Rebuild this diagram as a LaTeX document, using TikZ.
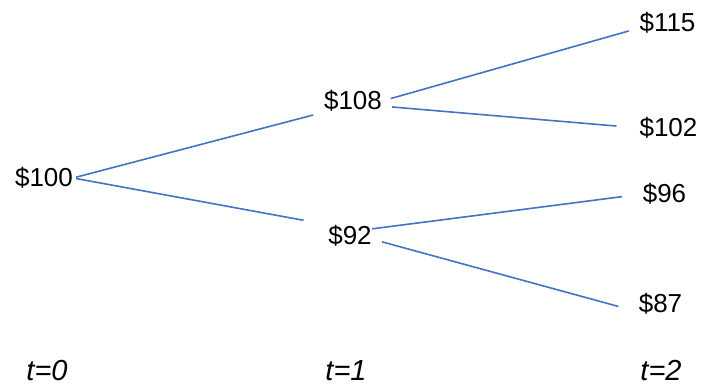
\documentclass[tikz,border=0pt]{standalone}
\usepackage{fontspec}
\setmainfont{Liberation Sans}
\definecolor{branchblue}{RGB}{68,114,196}

\begin{document}
\begin{tikzpicture}[x=1pt, y=-1pt,
    every node/.style={inner sep=0pt, text height=20pt, text depth=2pt},
    price/.style={font=\fontsize{26}{30}\selectfont},
    period/.style={font=\fontsize{29}{34}\selectfont\itshape, anchor=base},
    branch/.style={draw=branchblue, line width=1.6pt}]
  \useasboundingbox (0,0) rectangle (705,390);
  % t=0 : the starting price
  \node[price] (n100) at (44,178) {\$100};
  % t=1 : up and down
  \node[price] (n108) at (353,101) {\$108};
  \node[price] (n92) at (350,236) {\$92};
  % t=2 : the four end prices
  \node[price] (n115) at (667.5,23) {\$115};
  \node[price] (n102) at (668.5,128) {\$102};
  \node[price] (n96) at (664.5,194) {\$96};
  \node[price] (n87) at (660.5,304) {\$87};
  % the branches
  \draw[branch, shorten <=3pt, shorten >=11pt] (n100.east) -- (n108.south west);
  \draw[branch, shorten <=3pt, shorten >=25pt] (n100.east) -- (n92.north west);
  \draw[branch, shorten <=9pt, shorten >=11pt] (n108.east) -- (n115.190);
  \draw[branch, shorten <=10pt, shorten >=23pt] (n108.-10) -- (n102.west);
  \draw[branch, shorten >=21pt] (n92.18) -- (n96.west);
  \draw[branch, shorten <=10.5pt, shorten >=21pt] (n92.-8) -- (n87.200);
  % the time axis
  \node[period] (t0) at (47,381) {t=0};
  \node[period] (t1) at (346,381) {t=1};
  \node[period] (t2) at (661,381) {t=2};
\end{tikzpicture}
\end{document}
